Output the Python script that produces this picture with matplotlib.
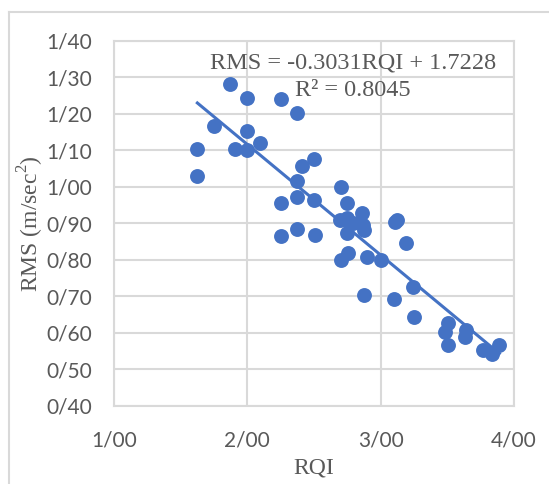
import numpy as np
import matplotlib.pyplot as plt
from matplotlib.lines import Line2D
from matplotlib.ticker import FuncFormatter

# RQI vs RMS readings
rqi = [1.87, 2.00, 2.25, 2.375, 1.75, 2.00, 2.095, 1.908, 2.00, 1.625,
       1.625, 2.408, 2.50, 2.375, 2.70, 2.375, 2.25, 2.50, 2.75, 2.858,
       2.695, 2.745, 2.795, 2.87, 2.875, 2.745, 3.108, 3.12, 3.188, 2.25,
       2.375, 2.508, 2.758, 2.70, 2.90, 3.00, 3.245, 2.875, 3.10, 3.25,
       3.508, 3.483, 3.508, 3.64, 3.633, 3.77, 3.833, 3.89]
rms = [1.282, 1.243, 1.240, 1.202, 1.168, 1.153, 1.120, 1.103, 1.101, 1.103,
       1.030, 1.058, 1.076, 1.017, 1.001, 0.973, 0.955, 0.964, 0.957, 0.928,
       0.910, 0.914, 0.900, 0.896, 0.882, 0.875, 0.905, 0.910, 0.846, 0.866,
       0.884, 0.868, 0.820, 0.800, 0.809, 0.800, 0.725, 0.704, 0.692, 0.645,
       0.627, 0.604, 0.567, 0.608, 0.588, 0.553, 0.542, 0.567]

slope = -0.3031
intercept = 1.7228
r2 = 0.8045

blue = '#4472C4'
grey = '#595959'
gridc = '#d9d9d9'
serif = 'Liberation Serif'

plt.rcParams['mathtext.fontset'] = 'custom'
plt.rcParams['mathtext.rm'] = serif

fig = plt.figure(figsize=(5.49, 4.84), dpi=100)
ax = fig.add_axes([0.2077, 0.1612, 0.7285, 0.7541])

ax.scatter(rqi, rms, s=115, color=blue, zorder=3, linewidths=0)

# trendline over the data range
xs = np.array([min(rqi), max(rqi)])
ax.plot(xs, slope * xs + intercept, color=blue, lw=2.2, zorder=2)

ax.set_xlim(1.0, 4.0)
ax.set_ylim(0.4, 1.4)
ax.set_xticks(np.arange(1.0, 4.01, 1.0))
ax.set_yticks(np.arange(0.4, 1.401, 0.1))

# persian style decimal separator
fmt = FuncFormatter(lambda v, p: ('%.2f' % v).replace('.', '/'))
ax.xaxis.set_major_formatter(fmt)
ax.yaxis.set_major_formatter(fmt)

ax.grid(True, color=gridc, lw=1.5)
ax.set_axisbelow(True)
for s in ax.spines.values():
    s.set_color(gridc)
    s.set_linewidth(1.5)
ax.tick_params(length=0, labelsize=15, colors=grey)
ax.tick_params(axis='x', pad=18)
ax.tick_params(axis='y', pad=16)
for lab in ax.get_xticklabels() + ax.get_yticklabels():
    lab.set_family('Lato')

ax.set_xlabel('RQI', family=serif, fontsize=17, color=grey, labelpad=5)
ax.set_ylabel('RMS (m/sec$^2$)', family=serif, fontsize=17, color=grey, labelpad=0)

fig.text(210 / 549, 1 - 63 / 484, 'RMS = %.4fRQI + %.4f' % (slope, intercept), family=serif,
         fontsize=17.5, color=grey, va='center', ha='left')
fig.text(295 / 549, 1 - 91 / 484, 'R² = %.4f' % r2, family=serif, fontsize=17.5,
         color=grey, va='center', ha='left')

# chart area border (partly cropped)
fig.add_artist(Line2D([8.5 / 549, 8.5 / 549], [0, 1 - 12 / 484], color=gridc, lw=1.5))
fig.add_artist(Line2D([8.5 / 549, 1], [1 - 12 / 484, 1 - 12 / 484], color=gridc, lw=1.5))

fig.savefig('out.png', dpi=100)
